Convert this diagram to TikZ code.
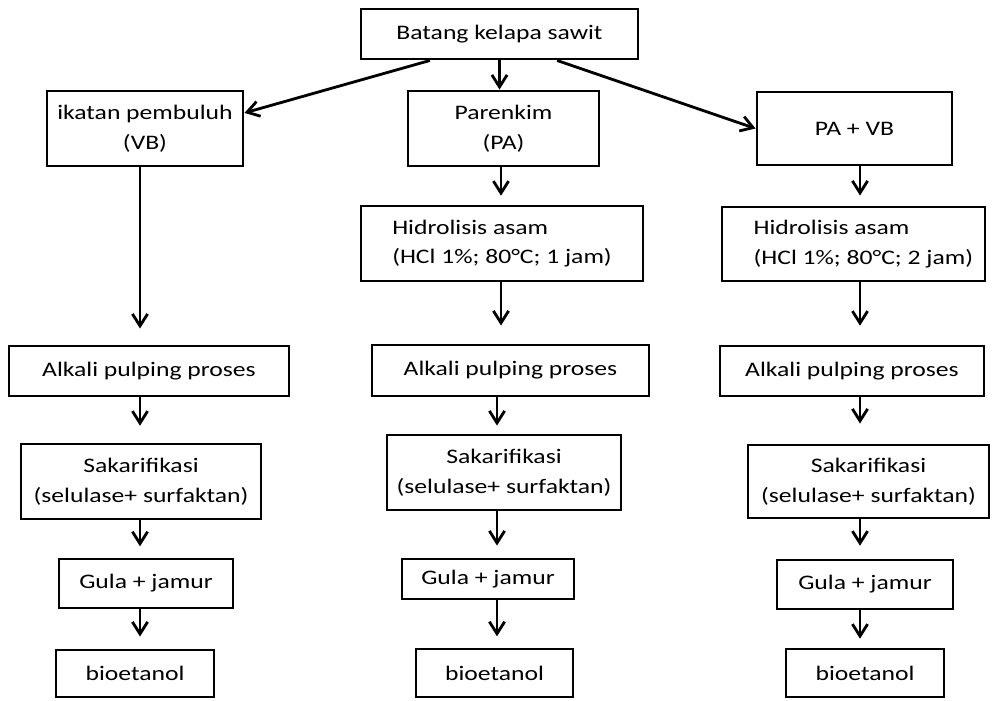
\documentclass[tikz,border=0pt]{standalone}
\usepackage{fontspec}
\setmainfont{Carlito}[FakeStretch=1.24]
\usepackage{tikz}
\usetikzlibrary{arrows.meta}

\begin{document}
\begin{tikzpicture}[x=0.025cm,y=-0.025cm,
   font=\fontsize{14.7}{21}\selectfont,
   box/.style 2 args={draw,line width=2.1pt,align=center,inner sep=0pt,
      minimum width=#1*0.025cm,minimum height=#2*0.025cm},
   flow/.style={-{Straight Barb[length=3mm,width=3.8mm]},line width=2pt}]
\useasboundingbox (0,0) rectangle (992,700);
\coordinate (c1) at (140,0);
\coordinate (c2) at (497,0);
\coordinate (c2a) at (501,0);
\coordinate (c3) at (860,0);
\node[box={277}{50}] (batang) at (499.5,34) {Batang kelapa sawit};
\node[box={196}{75}] (vb) at (145,128.5) {ikatan pembuluh\\(VB)};
\node[box={191}{75}] (pa) at (503.5,128.5) {Parenkim\\(PA)};
\node[box={195}{73}] (pavb) at (854.5,128.5) {PA + VB};
\node[box={282}{75},align=left] (hid2) at (502,243.5) {Hidrolisis asam\\(HCl 1\%; 80°C; 1 jam)};
\node[box={263}{74},align=left] (hid3) at (853.5,244) {\hspace{14pt}Hidrolisis asam\\\hspace{14pt}(HCl 1\%; 80°C; 2 jam)};
\node[box={280}{50}] (alk1) at (149,371) {Alkali pulping proses};
\node[box={277}{51}] (alk2) at (510.5,370.5) {Alkali pulping proses};
\node[box={264}{50}] (alk3) at (852,371) {Alkali pulping proses};
\node[box={240}{75}] (sak1) at (141,481.5) {Sakarifikasi\\(selulase+ surfaktan)};
\node[box={234}{75}] (sak2) at (504,472.5) {Sakarifikasi\\(selulase+ surfaktan)};
\node[box={241}{73}] (sak3) at (868.5,481.5) {Sakarifikasi\\(selulase+ surfaktan)};
\node[box={174}{49}] (gula1) at (146,583.5) {Gula + jamur};
\node[box={172}{40}] (gula2) at (488,579) {Gula + jamur};
\node[box={176}{49}] (gula3) at (865,584.5) {Gula + jamur};
\node[box={158}{47}] (bio1) at (135,673.5) {bioetanol};
\node[box={157}{48}] (bio2) at (494.5,673) {bioetanol};
\node[box={158}{48}] (bio3) at (865,673) {bioetanol};

\draw[flow] ([xshift=-1.74cm]batang.south) -- ([yshift=0.39cm]vb.east);
\draw[flow] (batang.south) -- (batang.south |- pa.north);
\draw[flow] ([xshift=1.44cm]batang.south) -- (pavb.west);

\draw[flow,shorten >=0.4cm] (vb.south -| c1) -- (alk1.north -| c1);
\draw[flow,shorten >=0.42cm] (alk1.south -| c1) -- (sak1.north -| c1);
\draw[flow,shorten >=0.28cm] (sak1.south -| c1) -- (gula1.north -| c1);
\draw[flow,shorten >=0.3cm] (gula1.south -| c1) -- (bio1.north -| c1);

\draw[flow,shorten >=0.22cm] (pa.south -| c2a) -- (hid2.north -| c2a);
\draw[flow,shorten >=0.45cm] (hid2.south -| c2a) -- (alk2.north -| c2a);
\draw[flow,shorten >=0.2cm] (alk2.south -| c2) -- (sak2.north -| c2);
\draw[flow,shorten >=0.3cm] (sak2.south -| c2) -- (gula2.north -| c2);
\draw[flow,shorten >=0.28cm] (gula2.south -| c2) -- (bio2.north -| c2);

\draw[flow,shorten >=0.25cm] (pavb.south -| c3) -- (hid3.north -| c3);
\draw[flow,shorten >=0.47cm] (hid3.south -| c3) -- (alk3.north -| c3);
\draw[flow,shorten >=0.5cm] (alk3.south -| c3) -- (sak3.north -| c3);
\draw[flow,shorten >=0.32cm] (sak3.south -| c3) -- (gula3.north -| c3);
\draw[flow,shorten >=0.22cm] (gula3.south -| c3) -- (bio3.north -| c3);
\end{tikzpicture}
\end{document}
